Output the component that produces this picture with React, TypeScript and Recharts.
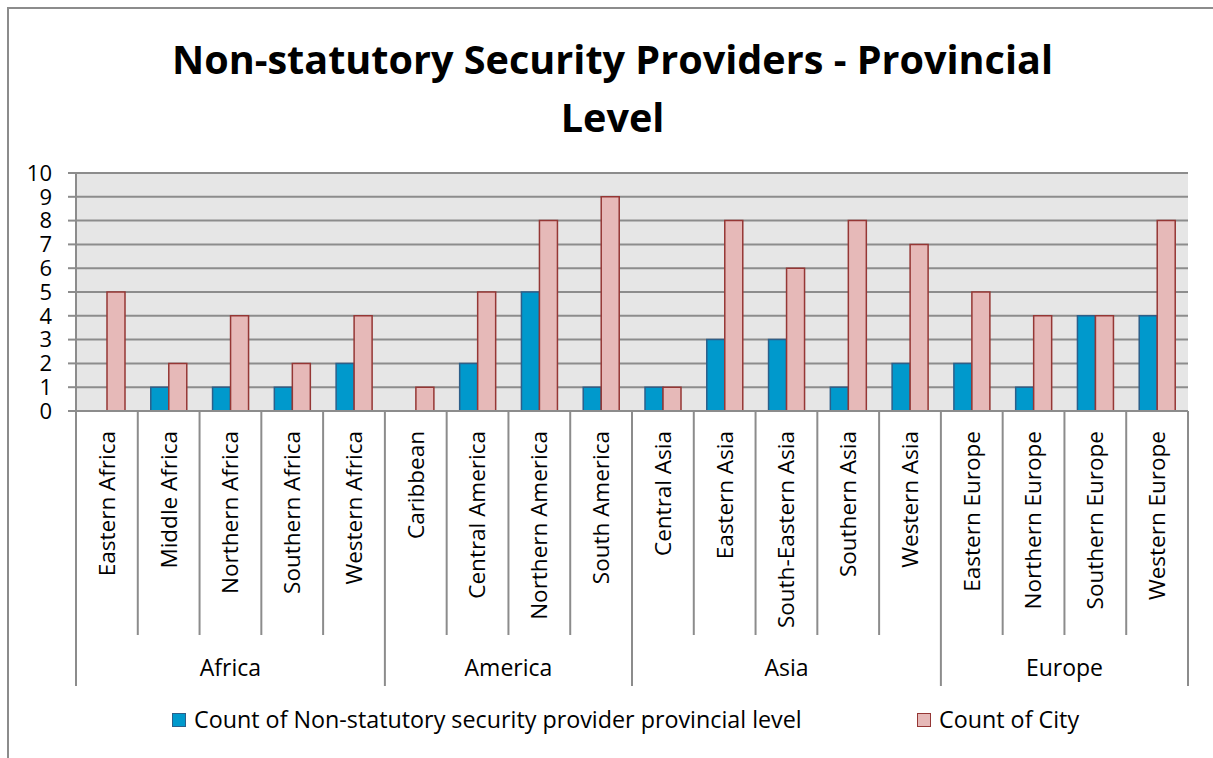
import React from "react";
import { BarChart, Bar, XAxis, YAxis, CartesianGrid, Legend } from "recharts";

const categories = [
  "Eastern Africa", "Middle Africa", "Northern Africa", "Southern Africa", "Western Africa",
  "Caribbean", "Central America", "Northern America", "South America",
  "Central Asia", "Eastern Asia", "South-Eastern Asia", "Southern Asia", "Western Asia",
  "Eastern Europe", "Northern Europe", "Southern Europe", "Western Europe",
];
const groups = [
  "Africa", "Africa", "Africa", "Africa", "Africa",
  "America", "America", "America", "America",
  "Asia", "Asia", "Asia", "Asia", "Asia",
  "Europe", "Europe", "Europe", "Europe",
];
const providerCounts = [0, 1, 1, 1, 2, 0, 2, 5, 1, 1, 3, 3, 1, 2, 2, 1, 4, 4];
const cityCounts = [5, 2, 4, 2, 4, 1, 5, 8, 9, 1, 8, 6, 8, 7, 5, 4, 4, 8];
const yTicks = [0, 1, 2, 3, 4, 5, 6, 7, 8, 9, 10];

const SERIES_A = "Count of Non-statutory security provider provincial level";
const SERIES_B = "Count of City";

const data = categories.map((name, i) => ({
  name,
  group: groups[i],
  provider: providerCounts[i],
  city: cityCounts[i],
}));

const W = 1213;
const H = 758;
const PLOT_LEFT = 76;
const PLOT_RIGHT = 1188;
const PLOT_TOP = 173;
const STEP = (PLOT_RIGHT - PLOT_LEFT) / categories.length;
const FONT = "'Open Sans', sans-serif";
const GRID = "#8c8c8c";
const LABEL_SIZE = 22.5;

const CategoryTick = (props: any) => {
  const { x, y, index } = props;
  const name = categories[index];
  const g = groups[index];
  const isGroupStart = index === 0 || groups[index - 1] !== g;
  const left = x - STEP / 2;
  const right = x + STEP / 2;
  let count = 0;
  if (isGroupStart) {
    for (let j = index; j < groups.length && groups[j] === g; j++) count++;
  }
  const isLast = index === categories.length - 1;
  return (
    <g>
      <line x1={left} y1={y} x2={left} y2={y + (isGroupStart ? 275 : 224)} stroke={GRID} strokeWidth={2} />
      {isLast && (
        <line x1={right} y1={y} x2={right} y2={y + 275} stroke={GRID} strokeWidth={2} />
      )}
      <text
        x={x}
        y={y + 20}
        transform={`rotate(-90 ${x} ${y + 20})`}
        textAnchor="end"
        dy="0.35em"
        fontSize={LABEL_SIZE}
        fontFamily={FONT}
        fill="#000"
      >
        {name}
      </text>
      {isGroupStart && (
        <text
          x={left + (count * STEP) / 2}
          y={y + 257}
          textAnchor="middle"
          dy="0.35em"
          fontSize={23}
          fontFamily={FONT}
          fill="#000"
        >
          {g}
        </text>
      )}
    </g>
  );
};

const LegendContent = () => (
  <div style={{ position: "relative", width: W, height: 30, fontFamily: FONT, fontSize: 23.3, color: "#000" }}>
    <div style={{ position: "absolute", left: 172, top: 7, width: 12, height: 12, background: "#0099cc", border: "1.5px solid #2c5f8a" }} />
    <div style={{ position: "absolute", left: 194, top: -1, whiteSpace: "nowrap", lineHeight: "28px" }}>{SERIES_A}</div>
    <div style={{ position: "absolute", left: 917, top: 7, width: 12, height: 12, background: "#e6b9b8", border: "1.5px solid #953735" }} />
    <div style={{ position: "absolute", left: 939, top: -1, whiteSpace: "nowrap", lineHeight: "28px" }}>{SERIES_B}</div>
  </div>
);

export default function App() {
  return (
    <div style={{ position: "absolute", left: 0, top: 0, width: W, height: H, overflow: "hidden", background: "#fff" }}>
      <div
        style={{
          position: "absolute",
          left: 7,
          top: 7,
          width: W - 7,
          height: H - 7,
          borderTop: `2px solid ${GRID}`,
          borderLeft: `2px solid ${GRID}`,
          boxSizing: "border-box",
        }}
      />
      <div
        style={{
          position: "absolute",
          left: 0,
          top: 30,
          width: 1225,
          textAlign: "center",
          fontFamily: FONT,
          fontWeight: 700,
          fontSize: 39.6,
          lineHeight: "58px",
          color: "#000",
        }}
      >
        Non-statutory Security Providers - Provincial
        <br />
        Level
      </div>
      <div style={{ position: "absolute", left: 0, top: 0 }}>
        <BarChart
          width={W}
          height={H}
          data={data}
          margin={{ top: PLOT_TOP, right: W - PLOT_RIGHT, bottom: 47, left: PLOT_LEFT - 60 }}
          barGap={0}
          barSize={18}
        >
          <CartesianGrid vertical={false} stroke={GRID} strokeWidth={2} fill="#e6e6e6" fillOpacity={1} />
          <XAxis
            dataKey="name"
            interval={0}
            height={300}
            tickLine={false}
            tickSize={0}
            tickMargin={0}
            axisLine={{ stroke: GRID, strokeWidth: 2 }}
            tick={<CategoryTick />}
          />
          <YAxis
            width={60}
            domain={[0, 10]}
            ticks={yTicks}
            interval={0}
            tickSize={8}
            tickMargin={16}
            tickLine={{ stroke: GRID, strokeWidth: 2 }}
            axisLine={{ stroke: GRID, strokeWidth: 2 }}
            tick={{ fontSize: 22, fontFamily: FONT, fill: "#000" }}
          />
          <Legend
            layout="horizontal"
            verticalAlign="middle"
            align="center"
            wrapperStyle={{ position: "absolute", top: 706, left: 0, width: W }}
            content={<LegendContent />}
          />
          <Bar dataKey="provider" name={SERIES_A} fill="#0099cc" stroke="#2c5f8a" strokeWidth={1.5} isAnimationActive={false} />
          <Bar dataKey="city" name={SERIES_B} fill="#e6b9b8" stroke="#953735" strokeWidth={1.5} isAnimationActive={false} />
        </BarChart>
      </div>
    </div>
  );
}
